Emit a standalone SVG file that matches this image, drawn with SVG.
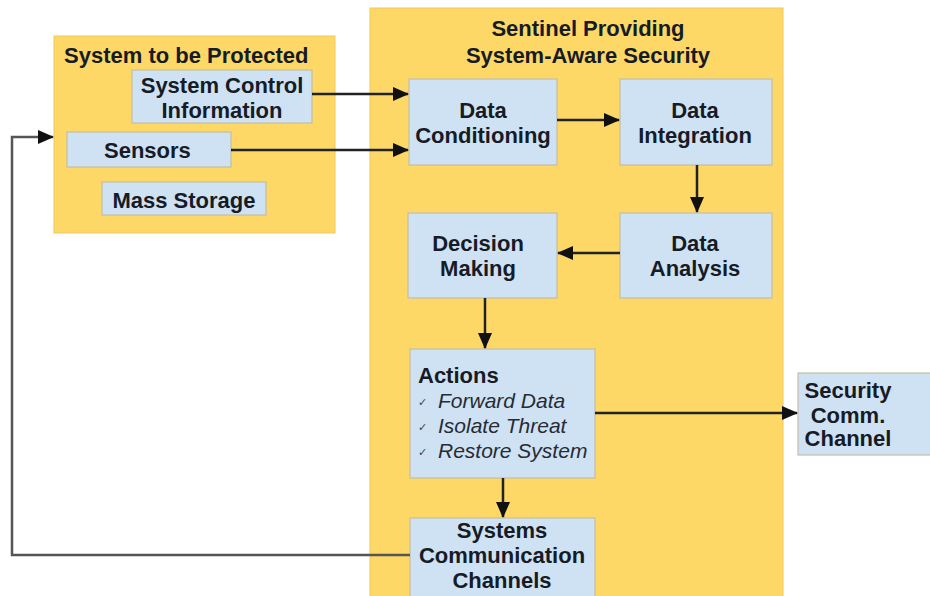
<svg xmlns="http://www.w3.org/2000/svg" width="930" height="596" viewBox="0 0 930 596">
<defs>
<style>
.bg{fill:#fdd867;stroke:#efc95a;stroke-width:1}
.box{fill:#cfe2f3;stroke:#c2bfa6;stroke-width:1.2}
.t{font-family:"Liberation Sans",Arial,sans-serif;font-weight:bold;font-size:22px;fill:#161b26}
.c{text-anchor:middle}
.i{font-family:"Liberation Sans",Arial,sans-serif;font-style:italic;font-size:21px;fill:#262b36}
.ck{font-family:"DejaVu Sans",sans-serif;font-size:11px;fill:#444}
.ln{fill:none;stroke:#222;stroke-width:2.5}
.fb{fill:none;stroke:#555;stroke-width:2.5}
</style>
<marker id="ah" markerWidth="16" markerHeight="14" refX="15" refY="7" orient="auto" markerUnits="userSpaceOnUse">
<path d="M0,0 L16,7 L0,14 Z" fill="#111"/>
</marker>
</defs>
<rect width="930" height="596" fill="#ffffff"/>

<g id="system-protected">
<rect class="bg" x="54" y="36" width="281" height="197"/>
<text class="t" x="64" y="63">System to be Protected</text>
</g>
<g id="sentinel">
<rect class="bg" x="370" y="8" width="413" height="600"/>
<text class="t c" x="588" y="36">Sentinel Providing</text>
<text class="t c" x="588" y="63">System-Aware Security</text>
</g>

<g id="system-control-information">
<rect class="box" x="132" y="70" width="180" height="53"/>
<text class="t c" x="222" y="93">System Control</text>
<text class="t c" x="222" y="118">Information</text>
</g>
<g id="sensors">
<rect class="box" x="67" y="132" width="164" height="35"/>
<text class="t" x="104" y="158">Sensors</text>
</g>
<g id="mass-storage">
<rect class="box" x="102" y="182" width="164" height="33"/>
<text class="t c" x="184" y="208">Mass Storage</text>
</g>

<g id="data-conditioning">
<rect class="box" x="409" y="79" width="148" height="86"/>
<text class="t c" x="483" y="118">Data</text>
<text class="t c" x="483" y="143">Conditioning</text>
</g>
<g id="data-integration">
<rect class="box" x="620" y="79" width="152" height="86"/>
<text class="t c" x="695" y="118">Data</text>
<text class="t c" x="695" y="143">Integration</text>
</g>
<g id="decision-making">
<rect class="box" x="408" y="213" width="149" height="85"/>
<text class="t c" x="478" y="251">Decision</text>
<text class="t c" x="478" y="276">Making</text>
</g>
<g id="data-analysis">
<rect class="box" x="620" y="213" width="152" height="85"/>
<text class="t c" x="695" y="251">Data</text>
<text class="t c" x="695" y="276">Analysis</text>
</g>
<g id="actions">
<rect class="box" x="410" y="349" width="185" height="129"/>
<text class="t" x="418" y="383">Actions</text>
<text class="ck" x="418" y="406">✓</text>
<text class="i" x="438" y="408">Forward Data</text>
<text class="ck" x="418" y="431">✓</text>
<text class="i" x="438" y="433">Isolate Threat</text>
<text class="ck" x="418" y="456">✓</text>
<text class="i" x="438" y="458">Restore System</text>
</g>
<g id="systems-communication-channels">
<rect class="box" x="410" y="518" width="185" height="80"/>
<text class="t c" x="502" y="538">Systems</text>
<text class="t c" x="502" y="563">Communication</text>
<text class="t c" x="502" y="588">Channels</text>
</g>
<g id="security-comm-channel">
<rect class="box" x="798" y="373" width="140" height="82"/>
<text class="t c" x="848" y="398">Security</text>
<text class="t c" x="848" y="423">Comm.</text>
<text class="t c" x="848" y="446">Channel</text>
</g>

<g id="connectors">
<path class="ln" d="M312,94 L408,94" marker-end="url(#ah)"/>
<path class="ln" d="M231,150 L408,150" marker-end="url(#ah)"/>
<path class="ln" d="M557,120 L619,120" marker-end="url(#ah)"/>
<path class="ln" d="M697,165 L697,212" marker-end="url(#ah)"/>
<path class="ln" d="M620,253 L558,253" marker-end="url(#ah)"/>
<path class="ln" d="M485,298 L485,348" marker-end="url(#ah)"/>
<path class="ln" d="M595,413 L797,413" marker-end="url(#ah)"/>
<path class="ln" d="M503,478 L503,517" marker-end="url(#ah)"/>
<path class="fb" d="M410,555 L12,555 L12,137 L53,137" marker-end="url(#ah)"/>
</g>
</svg>
